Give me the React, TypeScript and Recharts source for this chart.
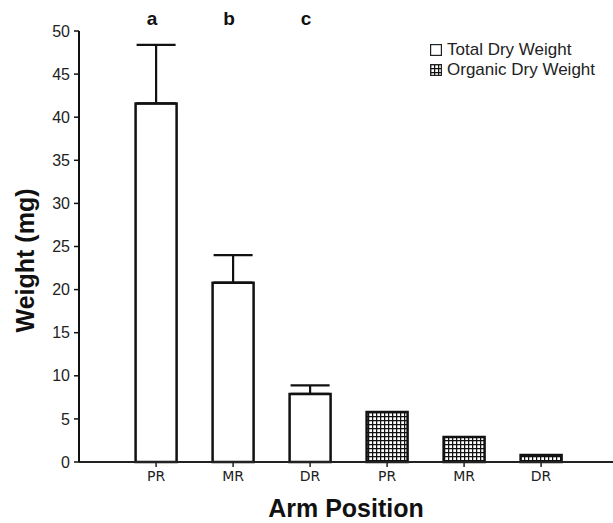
import React from 'react';
import { BarChart, Bar, XAxis, YAxis, ErrorBar, Cell, Legend, Label } from 'recharts';

const positions = ['PR', 'MR', 'DR'];
const totalDry = [41.6, 20.8, 7.9];
const totalErr = [6.8, 3.2, 1.0];
const organicDry = [5.8, 2.9, 0.8];
const groupLetters = ['a', 'b', 'c'];
const seriesNames = ['Total Dry Weight', 'Organic Dry Weight'];
const yTicks = [0, 5, 10, 15, 20, 25, 30, 35, 40, 45, 50];

const rows = [
  ...positions.map((p, i) => ({
    id: `total-${p}`,
    pos: p,
    group: 'total',
    value: totalDry[i],
    err: [0, totalErr[i]],
    letter: groupLetters[i],
  })),
  ...positions.map((p, i) => ({
    id: `organic-${p}`,
    pos: p,
    group: 'organic',
    value: organicDry[i],
    err: null,
    letter: '',
  })),
];

const FONT = '"Liberation Sans", Arial, sans-serif';
const xPad = { left: 38.6, right: 33.4 };

const LetterTick = (props: any) => {
  const { x, payload } = props;
  const row = rows[payload.index];
  return (
    <text x={x - 4} y={25} textAnchor="middle" fontFamily={FONT} fontWeight="bold" fontSize={19} fill="#111">
      {row ? row.letter : ''}
    </text>
  );
};

const YTitle = (props: any) => {
  const { viewBox } = props;
  const cx = 25;
  const cy = viewBox.y + viewBox.height / 2 + 14;
  return (
    <text
      x={cx}
      y={cy}
      transform={`rotate(-90, ${cx}, ${cy})`}
      textAnchor="middle"
      dominantBaseline="central"
      fontFamily={FONT}
      fontWeight="bold"
      fontSize={25}
      fill="#111"
    >
      Weight (mg)
    </text>
  );
};

const LegendBox = () => (
  <div style={{ fontFamily: FONT, fontSize: 17, color: '#222', lineHeight: '20px' }}>
    {seriesNames.map((name, i) => (
      <div key={name} style={{ display: 'flex', alignItems: 'center' }}>
        <svg width={12} height={12} style={{ marginRight: 5 }}>
          <rect x={0.6} y={0.6} width={10.8} height={10.8} fill={i === 0 ? '#fff' : 'url(#gridFill)'} stroke="#222" strokeWidth={1.2} />
        </svg>
        <span>{name}</span>
      </div>
    ))}
  </div>
);

export default function App() {
  return (
    <div style={{ position: 'absolute', left: 0, top: 0, width: 613, height: 523, background: '#fff' }}>
      <svg width={0} height={0} style={{ position: 'absolute' }}>
        <defs>
          <pattern id="gridFill" width={4} height={4} patternUnits="userSpaceOnUse">
            <rect width={4} height={4} fill="#fff" />
            <path d="M0 0.6 H4 M0.6 0 V4" stroke="#111" strokeWidth={1.3} />
          </pattern>
        </defs>
      </svg>
      <BarChart width={613} height={523} data={rows} margin={{ top: 0, right: 0, bottom: 0, left: 0 }}>
        <XAxis
          xAxisId="top"
          orientation="top"
          dataKey="id"
          height={31}
          padding={xPad}
          axisLine={false}
          tickLine={false}
          interval={0}
          tick={<LetterTick />}
        />
        <XAxis
          dataKey="id"
          height={61}
          padding={xPad}
          interval={0}
          axisLine={{ stroke: '#222', strokeWidth: 2 }}
          tickLine={{ stroke: '#222', strokeWidth: 1.5 }}
          tickSize={5}
          tickMargin={4}
          tickFormatter={(id: string) => id.split('-')[1]}
          tick={{ fontSize: 14, fill: '#222', fontFamily: '"DejaVu Sans", sans-serif' }}
        >
          <Label
            value="Arm Position"
            position="insideBottom"
            offset={6}
            style={{ fontSize: 25, fontWeight: 'bold', fill: '#111', fontFamily: FONT }}
          />
        </XAxis>
        <YAxis
          width={79}
          domain={[0, 50]}
          ticks={yTicks}
          interval={0}
          axisLine={{ stroke: '#111', strokeWidth: 2 }}
          tickLine={{ stroke: '#111', strokeWidth: 1.5 }}
          tickSize={5}
          tickMargin={4}
          tick={{ fontSize: 16, fill: '#222', fontFamily: FONT }}
        >
          <Label content={<YTitle />} />
        </YAxis>
        <Legend
          layout="horizontal"
          verticalAlign="middle"
          align="center"
          content={<LegendBox />}
          wrapperStyle={{ top: 40, left: 430, width: 'auto' }}
        />
        <Bar dataKey="value" barSize={41} stroke="#111" strokeWidth={2.5} isAnimationActive={false}>
          {rows.map((r) => (
            <Cell key={r.id} fill={r.group === 'total' ? '#fff' : 'url(#gridFill)'} />
          ))}
          <ErrorBar dataKey="err" direction="y" width={19.5} stroke="#111" strokeWidth={2.2} />
        </Bar>
      </BarChart>
    </div>
  );
}
